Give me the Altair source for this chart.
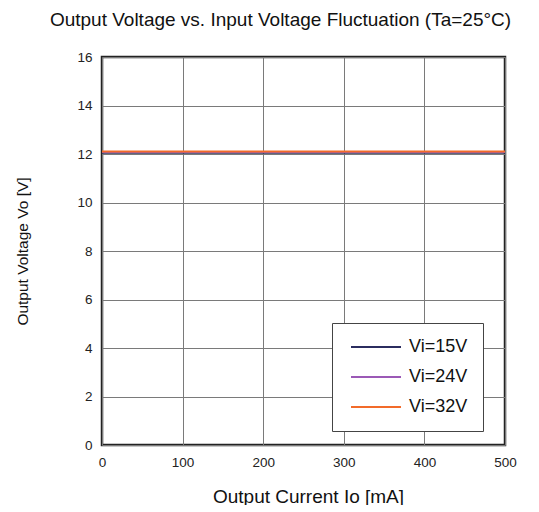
import altair as alt
import pandas as pd

current_ma = [0, 100, 200, 300, 400, 500]
vi_15 = [12.05, 12.05, 12.05, 12.05, 12.05, 12.05]
vi_24 = [12.08, 12.08, 12.08, 12.08, 12.08, 12.08]
vi_32 = [12.10, 12.10, 12.10, 12.10, 12.10, 12.10]
series_names = ["Vi=15V", "Vi=24V", "Vi=32V"]
series_colors = ["#2B2D5F", "#9B59B6", "#F26B2A"]

rows = []
for name, vals in zip(series_names, [vi_15, vi_24, vi_32]):
    for x, y in zip(current_ma, vals):
        rows.append({"Io": x, "Vo": y, "series": name})
df = pd.DataFrame(rows)

font = "Liberation Sans"

chart = alt.Chart(df).mark_line(strokeWidth=2).encode(
    x=alt.X("Io:Q", scale=alt.Scale(domain=[0, 500], nice=False),
            axis=alt.Axis(values=[0, 100, 200, 300, 400, 500], title="Output Current Io [mA]",
                          titleFontSize=19, titleFontWeight="normal", titleColor="#111",
                          titleX=206, titleY=51, titleBaseline="middle", titleAlign="center",
                          labelFontSize=13.5, labelColor="#222", labelPadding=10,
                          labelFlush=False,
                          ticks=False, domain=False, grid=True, gridColor="#7a7a7a",
                          gridWidth=1)),
    y=alt.Y("Vo:Q", scale=alt.Scale(domain=[0, 16], nice=False),
            axis=alt.Axis(values=[0, 2, 4, 6, 8, 10, 12, 14, 16], title="Output Voltage Vo [V]",
                          titleFontSize=15.5, titleFontWeight="normal", titleColor="#111",
                          titleAngle=-90, titleX=-80, titleY=194, titleAlign="center",
                          titleBaseline="middle",
                          labelFontSize=13.5, labelColor="#222", labelPadding=10,
                          labelFlush=False,
                          ticks=False, domain=False, grid=True, gridColor="#7a7a7a",
                          gridWidth=1)),
    color=alt.Color("series:N", scale=alt.Scale(domain=series_names, range=series_colors),
                    legend=alt.Legend(title=None, orient="none", legendX=230, legendY=266,
                                      symbolType="M-5,0H5", symbolSize=100, symbolStrokeWidth=2,
                                      symbolOffset=20, labelOffset=24,
                                      labelFontSize=18, labelColor="#111", labelFont=font,
                                      strokeColor="#444", fillColor="white", padding=15,
                                      rowPadding=12)),
    order=alt.Order("series:N"),
).properties(
    width=403,
    height=388,
    title=alt.TitleParams("Output Voltage vs. Input Voltage Fluctuation (Ta=25°C)",
                          fontSize=19, fontWeight="normal", color="#111", font=font,
                          anchor="middle", frame="group", offset=20, dx=-23),
    autosize=alt.AutoSizeParams(type="none"),
    padding={"left": 94, "top": 49, "right": 20, "bottom": 60},
).configure_view(
    stroke="#222", strokeWidth=2.5
).configure_axis(
    labelFont=font, titleFont=font
)

chart.save("out.html", embed_options={"renderer": "svg", "actions": False})
